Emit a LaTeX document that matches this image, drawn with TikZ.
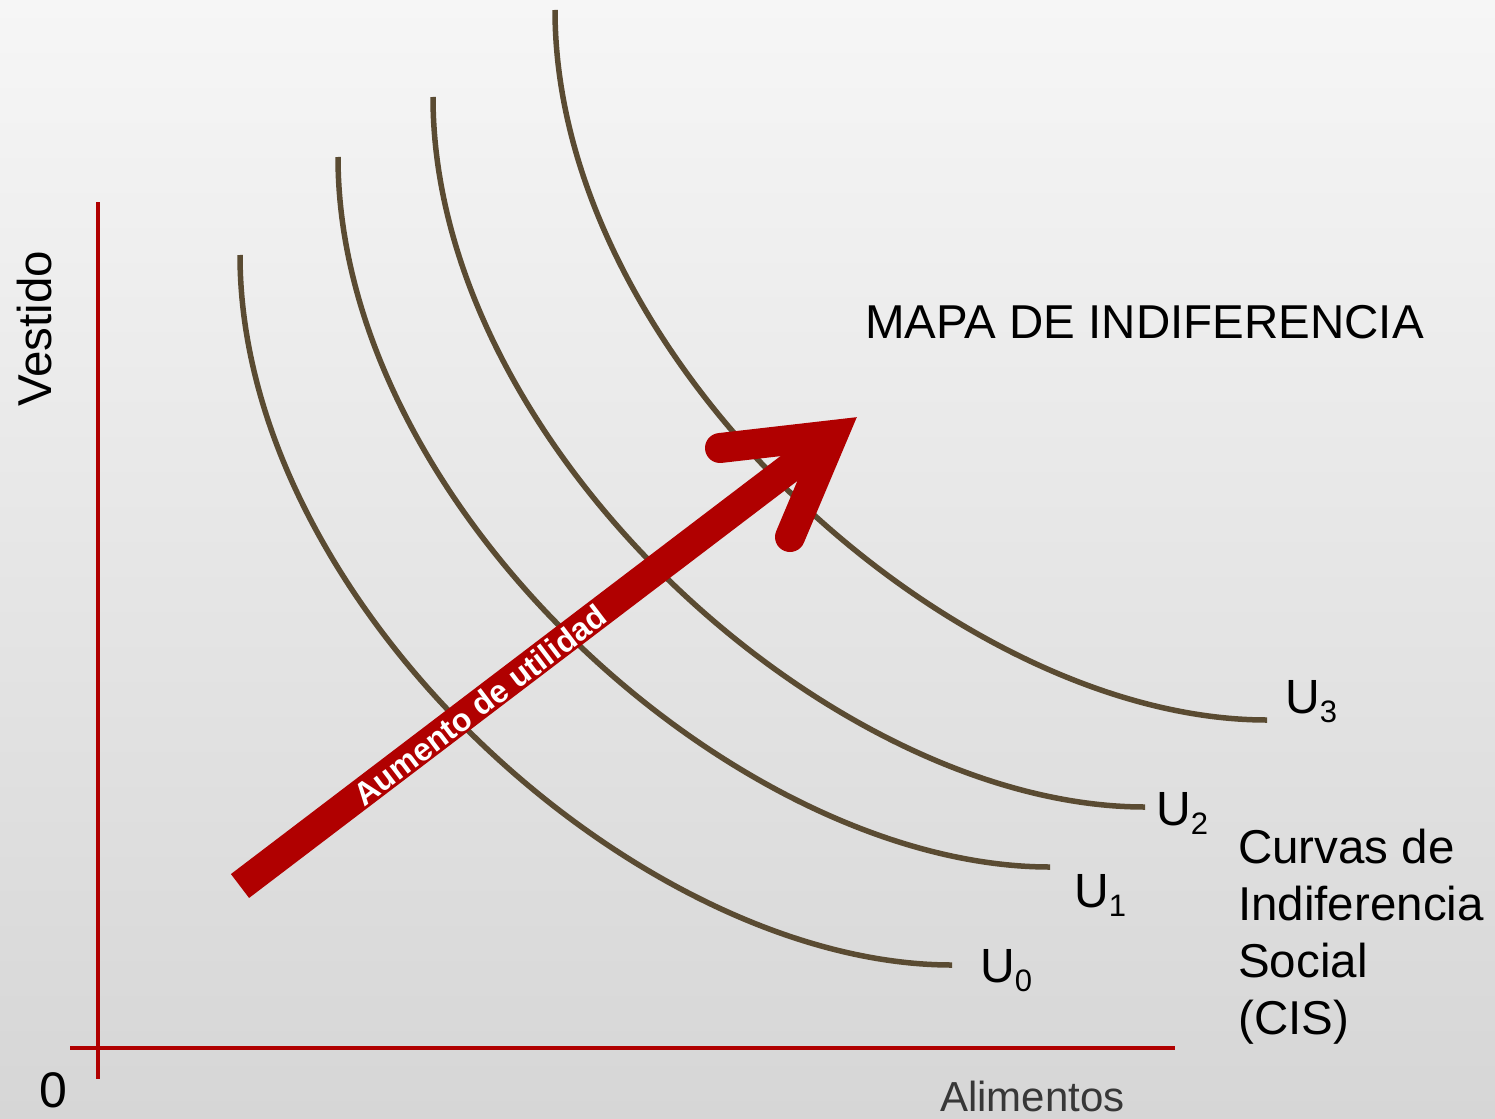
\documentclass[tikz,border=0pt]{standalone}
\usepackage{fontspec}
\setmainfont{Liberation Sans}[BoldFont={Liberation Sans Bold}]
\definecolor{axisred}{RGB}{176,0,0}
\definecolor{curvebrown}{RGB}{90,75,50}
\definecolor{bgtop}{RGB}{246,246,246}
\definecolor{bgbot}{RGB}{214,214,214}
\definecolor{labgray}{RGB}{55,55,55}
\begin{document}
\begin{tikzpicture}[x=1pt,y=-1pt,
  axisline/.style={draw=axisred,line width=3.8pt},
  icurve/.style={draw=curvebrown,line width=5.5pt},
  bigtext/.style={inner sep=0pt,font=\fontsize{47.5}{57}\selectfont},
  ulabel/.style={inner sep=0pt,anchor=base west,font=\fontsize{48}{57}\selectfont},
  arrowpart/.style={draw=axisred,line width=30pt}]
\useasboundingbox (0,0) rectangle (1495,1118);
\fill[top color=bgtop,bottom color=bgbot] (0,0) rectangle (1495,1118);
% axes
\coordinate (ytop) at (98,202);
\coordinate (ybot) at (98,1079);
\coordinate (xleft) at (70,1048);
\coordinate (xright) at (1175,1048);
\draw[axisline] (ytop) -- (ybot);
\draw[axisline] (xleft) -- (xright);
% indifference curves (same shape, shifted)
\foreach \sx/\sy in {240/255, 338/157, 433/97, 555/10}{
  \begin{scope}[shift={(\sx,\sy)}]
    \draw[icurve] (0,0) .. controls (0,350) and (400,710) .. (712,710);
  \end{scope}
}
% arrow
\coordinate (tail) at (240,886);
\coordinate (vert) at (833,435);
\coordinate (barbA) at (720,448);
\coordinate (barbB) at (790,537);
\draw[arrowpart,line cap=butt] (tail) -- (vert);
\draw[arrowpart,line cap=round,line join=miter,miter limit=10] (barbA) -- (vert) -- (barbB);
\node[rotate=37.25,text=white,inner sep=0pt,font=\bfseries\fontsize{32}{32}\selectfont] (aum) at (480,705) {Aumento de utilidad};
% labels
\node[bigtext,anchor=base west] (mapa) at (865,338) {MAPA DE INDIFERENCIA};
\node[bigtext,anchor=base,rotate=90] (vest) at (51,329) {Vestido};
\node[inner sep=0pt,anchor=base,font=\fontsize{50}{50}\selectfont] (zero) at (53.5,1107) {0};
\node[inner sep=0pt,anchor=base west,text=labgray,font=\fontsize{42}{42}\selectfont] (alim) at (940,1111) {Alimentos};
\node[ulabel] (u3) at (1285,713) {U\raisebox{-9pt}{\fontsize{31}{31}\selectfont 3}};
\node[ulabel] (u2) at (1156,825) {U\raisebox{-9pt}{\fontsize{31}{31}\selectfont 2}};
\node[ulabel] (u1) at (1074,907) {U\raisebox{-9pt}{\fontsize{31}{31}\selectfont 1}};
\node[ulabel] (u0) at (980,982) {U\raisebox{-9pt}{\fontsize{31}{31}\selectfont 0}};
\node[bigtext,anchor=base west] (cis1) at (1238,863) {Curvas de};
\node[bigtext,anchor=base west] (cis2) at (1238,920) {Indiferencia};
\node[bigtext,anchor=base west] (cis3) at (1238,977) {Social};
\node[bigtext,anchor=base west] (cis4) at (1238,1034) {(CIS)};
\end{tikzpicture}
\end{document}
